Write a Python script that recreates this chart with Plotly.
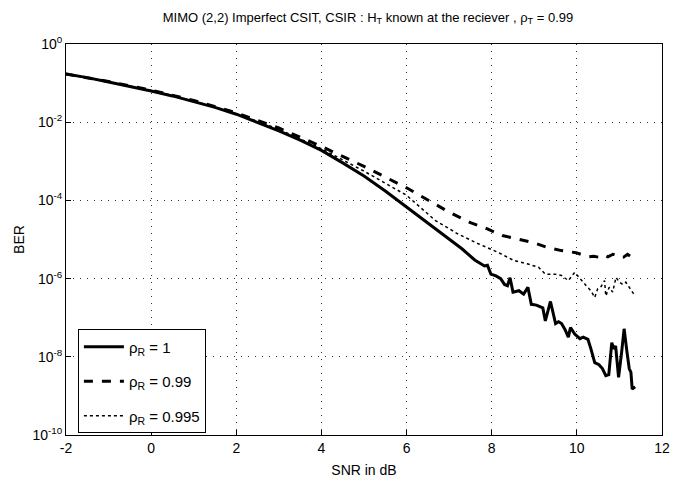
import plotly.graph_objects as go

# SNR (dB) and BER values
snr_r1 = [-2, -1.5, -1, -0.5, 0, 0.5, 1, 1.5, 2, 2.5, 3, 3.5, 4, 4.5, 5, 5.5, 6, 6.5, 7, 7.3,
          7.6, 7.83, 7.9, 7.98, 8.1, 8.21, 8.3, 8.37, 8.43, 8.5, 8.64, 8.75, 8.85, 8.93, 9.05,
          9.2, 9.26, 9.38, 9.5, 9.57, 9.64, 9.72, 9.8, 9.85, 9.95, 10.07, 10.15, 10.26, 10.33,
          10.42, 10.52, 10.6, 10.68, 10.75, 10.82, 10.87, 10.91, 10.98, 11.05, 11.11, 11.18,
          11.23, 11.27, 11.3, 11.37]
ber_r1 = [1.7e-1, 1.38e-1, 1.07e-1, 8.3e-2, 6.3e-2, 4.7e-2, 3.4e-2, 2.4e-2, 1.6e-2, 1.0e-2,
          6.0e-3, 3.5e-3, 1.9e-3, 9.1e-4, 4.2e-4, 1.74e-4, 6.8e-5, 2.7e-5, 1.05e-5, 5.8e-6,
          3.0e-6, 2.1e-6, 2.2e-6, 1.3e-6, 1.17e-6, 1.0e-6, 7.1e-7, 6.6e-7, 1.05e-6, 4.5e-7,
          4.9e-7, 4.0e-7, 6.0e-7, 2.2e-7, 2.1e-7, 1.78e-7, 8.3e-8, 2.6e-7, 7.1e-8, 7.9e-8,
          7.1e-8, 5.0e-8, 3.2e-8, 5.6e-8, 3.8e-8, 2.9e-8, 3.2e-8, 2.8e-8, 1.6e-8, 7.1e-9,
          6.3e-9, 5.0e-9, 3.3e-9, 3.5e-9, 2.3e-8, 1.6e-8, 1.9e-8, 3.0e-9, 1.26e-8, 5.2e-8,
          1.26e-8, 5.0e-9, 4.0e-9, 1.5e-9, 1.7e-9]

snr_r099 = [-2, -1, 0, 1, 2, 3, 4, 5, 6, 6.5, 7, 7.5, 7.9, 8.25, 8.6, 8.95, 9.3, 9.64, 9.98,
            10.27, 10.4, 10.53, 10.65, 10.73, 10.85, 10.92, 11.0, 11.1, 11.19, 11.25]
ber_r099 = [1.7e-1, 1.1e-1, 6.6e-2, 3.6e-2, 1.74e-2, 7.1e-3, 2.4e-3, 7.4e-4, 2.1e-4, 1.0e-4,
            5.0e-5, 2.7e-5, 1.86e-5, 1.26e-5, 1.05e-5, 8.5e-6, 6.3e-6, 5.2e-6, 4.6e-6,
            3.6e-6, 3.7e-6, 3.5e-6, 4.0e-6, 3.6e-6, 4.2e-6, 4.0e-6, 3.5e-6, 3.55e-6, 4.2e-6,
            3.8e-6]

snr_r0995 = [-2, -1, 0, 1, 2, 3, 4, 5, 6, 6.67, 7.2, 7.67, 8.13, 8.52, 8.83, 9.1, 9.26, 9.49,
             9.64, 9.8, 9.95, 10.07, 10.22, 10.33, 10.42, 10.49, 10.57, 10.65, 10.68, 10.76,
             10.84, 10.92, 11.0, 11.08, 11.15, 11.23, 11.34]
ber_r0995 = [1.7e-1, 1.08e-1, 6.5e-2, 3.5e-2, 1.66e-2, 6.6e-3, 2.1e-3, 5.6e-4, 1.35e-4,
             3.1e-5, 1.4e-5, 7.9e-6, 4.8e-6, 2.9e-6, 2.4e-6, 1.95e-6, 1.3e-6, 1.3e-6, 1.2e-6,
             8.9e-7, 1.45e-6, 1.0e-6, 6.6e-7, 4.9e-7, 3.3e-7, 5.5e-7, 6.3e-7, 8.9e-7, 3.6e-7,
             6.0e-7, 4.5e-7, 1.07e-6, 8.1e-7, 7.1e-7, 8.1e-7, 6.0e-7, 4.0e-7]

x_ticks = [-2, 0, 2, 4, 6, 8, 10, 12]
y_tickvals = [1, 1e-2, 1e-4, 1e-6, 1e-8, 1e-10]
y_ticktext = ["10<sup>0</sup>", "10<sup>-2</sup>", "10<sup>-4</sup>", "10<sup>-6</sup>",
              "10<sup>-8</sup>", "10<sup>-10</sup>"]

FONT = "Liberation Sans Narrow, Liberation Sans, Arial, sans-serif"

fig = go.Figure()
fig.add_trace(go.Scatter(x=snr_r1, y=ber_r1, mode="lines", name="ρ<sub>R</sub> = 1",
                         legendgroup="a",
                         line=dict(color="black", width=3, dash="solid")))
fig.add_trace(go.Scatter(x=snr_r099, y=ber_r099, mode="lines", name="ρ<sub>R</sub> = 0.99",
                         legendgroup="b",
                         line=dict(color="black", width=3, dash="dash")))
fig.add_trace(go.Scatter(x=snr_r0995, y=ber_r0995, mode="lines", name="ρ<sub>R</sub> = 0.995",
                         legendgroup="c",
                         line=dict(color="black", width=1.5, dash="dot")))

axis_common = dict(showline=True, linecolor="black", linewidth=1, mirror=True,
                   ticks="inside", ticklen=5, tickcolor="black",
                   showgrid=True, gridcolor="#333333", gridwidth=1, griddash="1px,6px",
                   zeroline=False, tickfont=dict(family=FONT, size=14, color="black"))

fig.update_layout(
    width=679, height=496,
    margin=dict(l=66, r=9, t=44, b=61),
    paper_bgcolor="white", plot_bgcolor="white",
    title=dict(text="MIMO (2,2) Imperfect CSIT, CSIR : H<sub>T</sub> known at the reciever , ρ<sub>T</sub> = 0.99",
               x=0.542, xanchor="center", y=0.975, yanchor="top",
               font=dict(family=FONT, size=13, color="black")),
    xaxis=dict(range=[-2, 12], tickvals=x_ticks, ticktext=[str(v) for v in x_ticks],
               title=dict(text="SNR in dB", font=dict(family=FONT, size=14, color="black"), standoff=10),
               **axis_common),
    yaxis=dict(type="log", range=[-10, 0], tickvals=y_tickvals, ticktext=y_ticktext,
               title=dict(text="BER", font=dict(family=FONT, size=14, color="black"), standoff=4),
               **axis_common),
    legend=dict(x=0.02, y=0.27, xanchor="left", yanchor="top",
                bgcolor="white", bordercolor="black", borderwidth=1,
                font=dict(family=FONT, size=15, color="black"),
                tracegroupgap=12, itemwidth=40),
    showlegend=True,
)

fig.write_html("out.html")
